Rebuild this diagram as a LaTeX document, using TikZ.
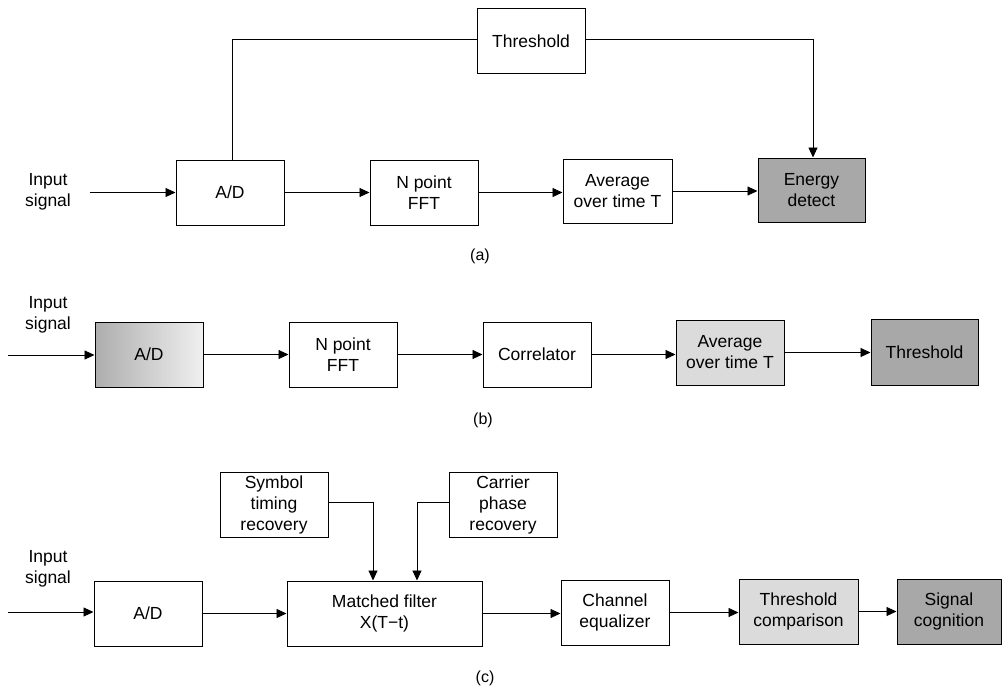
\documentclass[tikz,border=0pt]{standalone}
\usepackage{fontspec}
\setmainfont{Liberation Sans}
\usetikzlibrary{arrows.meta}
\begin{document}
\begin{tikzpicture}[x=1pt,y=-1pt,
  blk/.style={draw=black,line width=1pt,minimum height=65pt,minimum width=108pt,align=center,inner sep=1pt,
    font=\fontsize{17.5}{21}\selectfont},
  light/.style={fill=black!14},
  dark/.style={fill=black!34},
  lbl/.style={align=center,font=\fontsize{17.5}{21}\selectfont},
  captxt/.style={font=\fontsize{16}{18}\selectfont},
  conn/.style={line width=0.9pt},
  arr/.style={conn,-{Triangle[length=10pt,width=9pt]}}]
\useasboundingbox (0,0) rectangle (1002,691);
\fill[white] (0,0) rectangle (1002,691);

% ---------- (a)
\node[blk] (thrA) at (531,41) {Threshold};
\node[blk] (adA) at (230,192.5) {A/D};
\node[blk] (fftA) at (424,192.5) {N point\\FFT};
\node[blk,minimum width=109pt,minimum height=64pt] (avgA) at (617.5,191) {Average\\over time T};
\node[blk,dark,minimum width=107pt,minimum height=64pt] (enA) at (811.5,190) {Energy\\detect};
\node[lbl] (inA) at (48,192) {Input\\signal};
\coordinate (sA) at (90,192.5);
\draw[arr] (sA) -- (adA.west);
\draw[arr] (adA.east) -- (adA.east -| fftA.west);
\draw[arr] (fftA.east) -- (fftA.east -| avgA.west);
\draw[arr] (avgA.east) -- (avgA.east -| enA.west);
\draw[conn] ([xshift=2pt]adA.north) |- ([yshift=2pt]thrA.west);
\draw[arr] ([yshift=2pt]thrA.east) -| ([xshift=1.5pt]enA.north);
\node[captxt] (capA) at (480,256) {(a)};

% ---------- (b)
\node[blk,left color=black!32,right color=black!6] (adB) at (149,354.5) {A/D};
\node[blk] (fftB) at (343,354.5) {N point\\FFT};
\node[blk] (corB) at (537,354.5) {Correlator};
\node[blk,light] (avgB) at (730,352.5) {Average\\over time T};
\node[blk,dark,minimum width=107pt,minimum height=66pt] (thrB) at (924.5,352) {Threshold};
\node[lbl] (inB) at (48,315) {Input\\signal};
\coordinate (sB) at (8,355);
\draw[arr] (sB) -- (sB -| adB.west);
\draw[arr] (adB.east) -- (adB.east -| fftB.west);
\draw[arr] (fftB.east) -- (fftB.east -| corB.west);
\draw[arr] (corB.east) -- (corB.east -| avgB.west);
\draw[arr] (avgB.east) -- (avgB.east -| thrB.west);
\node[captxt] (capB) at (483,420) {(b)};

% ---------- (c)
\node[blk] (symC) at (274,504.5) {Symbol\\timing\\recovery};
\node[blk] (carC) at (503,504.5) {Carrier\\phase\\recovery};
\node[blk] (adC) at (148,613.5) {A/D};
\node[blk,minimum width=195pt] (mfC) at (384.5,613.5) {Matched filter\\X(T−t)};
\node[blk] (chC) at (615,612.5) {Channel\\equalizer};
\node[blk,light,minimum width=119pt] (tcC) at (798.5,611.5) {Threshold\\comparison};
\node[blk,dark,minimum width=104pt] (scC) at (949,611.5) {Signal\\cognition};
\node[lbl] (inC) at (48,569) {Input\\signal};
\coordinate (sC) at (8,612);
\draw[arr] (sC) -- (sC -| adC.west);
\draw[arr] (adC.east) -- (adC.east -| mfC.west);
\draw[arr] (mfC.east) -- (mfC.east -| chC.west);
\draw[arr] (chC.east) -- (chC.east -| tcC.west);
\draw[arr] (tcC.east) -- (tcC.east -| scC.west);
\draw[arr] ([yshift=2.5pt]symC.east) -| ([xshift=-11.5pt]mfC.north);
\draw[arr] ([yshift=2.5pt]carC.west) -| ([xshift=32.5pt]mfC.north);
\node[captxt] (capC) at (485,678) {(c)};
\end{tikzpicture}
\end{document}
